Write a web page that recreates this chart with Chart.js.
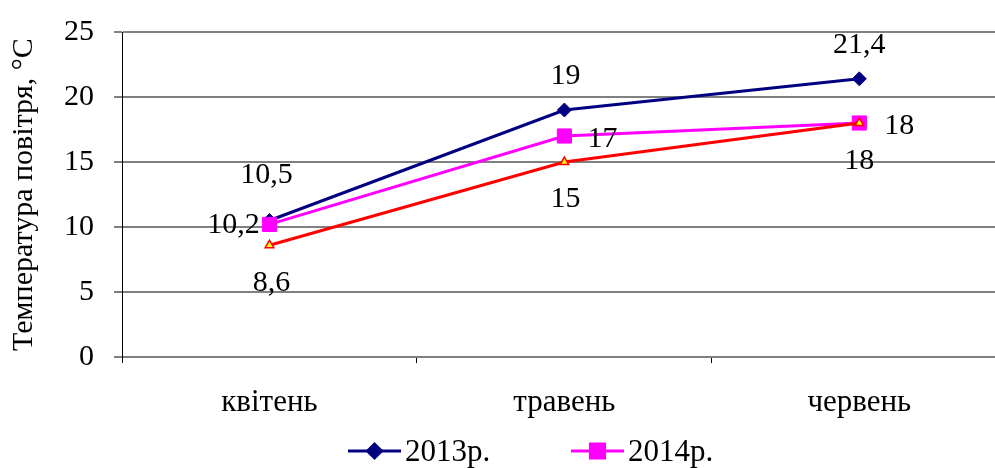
<!DOCTYPE html>
<html>
<head>
<meta charset="utf-8">
<script src="https://cdn.jsdelivr.net/npm/chart.js@4"></script>
<style>
html, body { margin:0; padding:0; background:#fff; overflow:hidden; }
#wrap { position:relative; width:995px; height:468px; }
</style>
</head>
<body>
<div id="wrap"><canvas id="chart" width="995" height="468"></canvas></div>
<script>
var months = ['квітень', 'травень', 'червень'];
var temp2013 = [10.5, 19, 21.4];
var temp2014 = [10.2, 17, 18];
var tempRed = [8.6, 15, 18];
var yMin = 0, yMax = 25, yStep = 5;
// category slots: -0.5..2.5, the last one is cut by the right edge as in the original
var xMin = -0.5, xMax = 2.46;
var xTickValues = [-0.5, 0, 0.5, 1, 1.5, 2];

// label offsets from the point (dx, dy)
var off2013 = [[-3, -47], [1, -36], [0, -36]];
var off2014 = [[-36, -1], [38, 1], [40, 1]];
var offRed = [[2, 36], [1, 35], [0, 36]];

function toPoints(arr) {
  return arr.map(function (v, i) { return {x: i, y: v}; });
}

var FONT = "'Liberation Serif', 'Times New Roman', serif";
Chart.defaults.font.family = FONT;
Chart.defaults.color = '#000';

var valueLabels = {
  id: 'valueLabels',
  afterDatasetsDraw: function (chart) {
    var ctx = chart.ctx;
    ctx.save();
    ctx.font = '30px ' + FONT;
    ctx.fillStyle = '#000';
    ctx.textAlign = 'center';
    ctx.textBaseline = 'middle';
    chart.data.datasets.forEach(function (ds, i) {
      var meta = chart.getDatasetMeta(i);
      meta.data.forEach(function (pt, j) {
        var o = ds.labelOffsets[j];
        ctx.fillText(String(ds.data[j].y).replace('.', ','), pt.x + o[0], pt.y + o[1] + 2);
      });
    });
    ctx.restore();
  }
};

var lineLegend = {
  id: 'lineLegend',
  afterDraw: function (chart) {
    var ctx = chart.ctx;
    var items = [[348, 0], [571, 1]];
    ctx.save();
    items.forEach(function (it) {
      var ds = chart.data.datasets[it[1]];
      var x = it[0], y = 451;
      ctx.strokeStyle = ds.borderColor;
      ctx.lineWidth = 3;
      ctx.beginPath();
      ctx.moveTo(x, y);
      ctx.lineTo(x + 53, y);
      ctx.stroke();
      ctx.fillStyle = ds.pointBackgroundColor;
      ctx.strokeStyle = ds.pointBorderColor;
      Chart.helpers.drawPoint(ctx, {pointStyle: ds.pointStyle, radius: ds.pointRadius, rotation: 0, borderWidth: 1}, x + 26.5, y);
      ctx.fillStyle = '#000';
      ctx.font = '31px ' + FONT;
      ctx.textAlign = 'left';
      ctx.textBaseline = 'middle';
      ctx.fillText(ds.label, x + 57, y + 2);
    });
    ctx.restore();
  }
};

new Chart(document.getElementById('chart'), {
  type: 'line',
  data: {
    datasets: [
      {
        label: '2013р.', data: toPoints(temp2013), labelOffsets: off2013, order: 2,
        borderColor: '#000080', borderWidth: 3,
        pointStyle: 'rectRot', pointRadius: 7,
        pointBackgroundColor: '#000080', pointBorderColor: '#000080', pointBorderWidth: 1
      },
      {
        label: '2014р.', data: toPoints(temp2014), labelOffsets: off2014, order: 1,
        borderColor: '#FF00FF', borderWidth: 3,
        pointStyle: 'rect', pointRadius: 10,
        pointBackgroundColor: '#FF00FF', pointBorderColor: '#FF00FF', pointBorderWidth: 1
      },
      {
        label: '', data: toPoints(tempRed), labelOffsets: offRed, order: 0,
        borderColor: '#FF0000', borderWidth: 3,
        pointStyle: 'triangle', pointRadius: 5,
        pointBackgroundColor: '#FFFF00', pointBorderColor: '#FF0000', pointBorderWidth: 1.5
      }
    ]
  },
  options: {
    responsive: false,
    animation: false,
    layout: { autoPadding: false, padding: { top: 32, right: 0, bottom: 0, left: 0 } },
    plugins: { legend: { display: false }, tooltip: { enabled: false } },
    scales: {
      x: {
        type: 'linear',
        min: xMin, max: xMax,
        grid: {
          drawOnChartArea: false, lineWidth: 1, tickLength: 6,
          tickColor: function (c) { return Number.isInteger(c.tick.value) ? 'rgba(0,0,0,0)' : '#000'; }
        },
        border: { display: false },
        afterBuildTicks: function (s) { s.ticks = xTickValues.map(function (v) { return {value: v}; }); },
        ticks: {
          font: { size: 31 }, padding: 21, maxRotation: 0, autoSkip: false,
          callback: function (v) { return Number.isInteger(v) ? months[v] : ''; }
        },
        afterFit: function (s) { s.height = 111; s.paddingLeft = 0; s.paddingRight = 0; }
      },
      y: {
        min: yMin, max: yMax,
        ticks: { stepSize: yStep, font: { size: 30 }, padding: 20 },
        grid: { color: '#808080', lineWidth: 2, tickLength: 8 },
        border: { color: '#000', width: 1 },
        title: { display: true, text: 'Температура повітря, °С', font: { size: 30 }, padding: { top: 6, bottom: 0 } },
        afterFit: function (s) { s.width = 122; s.paddingTop = 0; s.paddingBottom = 0; }
      }
    }
  },
  plugins: [valueLabels, lineLegend]
});
</script>
</body>
</html>
